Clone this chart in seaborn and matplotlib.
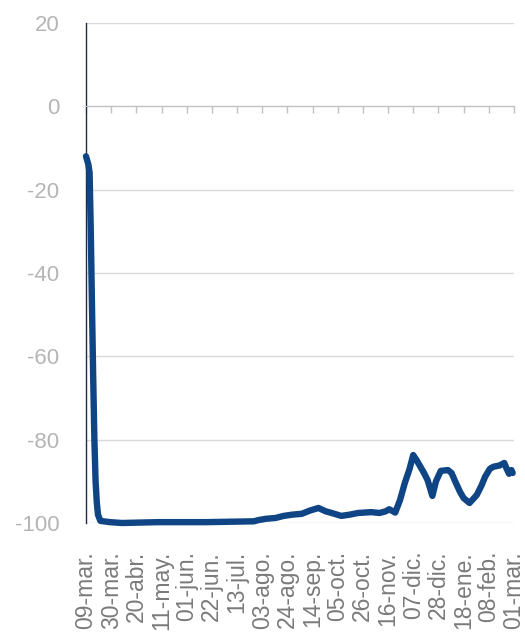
import pandas as pd
import matplotlib
matplotlib.use("Agg")
import matplotlib.pyplot as plt
import matplotlib.dates as mdates
import seaborn as sns

# =========================
# Datos
# =========================
inicio = pd.Timestamp("2020-03-09")

# dias desde el 09-mar.
dias = [0, 1, 2, 3, 4, 5, 6, 7, 8, 9, 10, 12, 20, 30, 60, 100, 140, 144,
        150, 158, 165, 172, 180, 187, 194, 200, 205, 213, 220, 227, 238,
        245, 250, 253, 258, 262, 266, 270, 273, 276, 279, 282, 285, 289,
        292, 296, 302, 305, 308, 312, 315, 320, 326, 330, 333, 337, 340,
        345, 349, 351, 353, 355, 356]

valores = [-12, -13, -14, -16, -30, -48, -65, -80, -90, -95, -98, -99.5,
           -99.8, -100, -99.8, -99.8, -99.6, -99.3, -99, -98.8, -98.3, -98,
           -97.8, -97, -96.4, -97.2, -97.6, -98.3, -98, -97.6, -97.4, -97.6,
           -97.2, -96.7, -97.5, -94.5, -90.4, -87, -83.7, -85, -86.5, -88,
           -89.7, -93.5, -90, -87.5, -87.3, -88, -90, -92.5, -94, -95.2,
           -93.3, -91, -88.9, -87, -86.5, -86.2, -85.6, -87, -88.2, -87.3,
           -88]

etiquetas = ["09-mar.", "30-mar.", "20-abr.", "11-may.", "01-jun.",
             "22-jun.", "13-jul.", "03-ago.", "24-ago.", "14-sep.",
             "05-oct.", "26-oct.", "16-nov.", "07-dic.", "28-dic.",
             "18-ene.", "08-feb.", "01-mar."]

y_ticks = [20, 0, -20, -40, -60, -80, -100]

df = pd.DataFrame({
    "fecha": inicio + pd.to_timedelta(dias, unit="D"),
    "valor": valores,
})

# =========================
# Grafico
# =========================
sns.set_style("white")
plt.rcParams["font.family"] = ["Liberation Sans", "DejaVu Sans"]
plt.rcParams["axes.unicode_minus"] = False

fig = plt.figure(figsize=(5.25, 6.33), dpi=100)
ax = fig.add_axes([0.1638, 0.1738, 0.815, 0.79])

sns.lineplot(data=df, x="fecha", y="valor", ax=ax, color="#0f4584",
             linewidth=4.6, clip_on=False, zorder=5)

ax.set_xlim(inicio, inicio + pd.Timedelta(days=357))
ax.set_ylim(-100, 20)
ax.set_xlabel("")
ax.set_ylabel("")

# rejilla horizontal
ax.set_yticks(y_ticks)
ax.yaxis.grid(True, color="#d9d9d9", linewidth=1)
ax.tick_params(axis="y", length=0, pad=19, labelsize=16, labelcolor="#b5b5b5")

# eje horizontal en cero con marcas
pos_ticks = pd.date_range(inicio, periods=len(etiquetas), freq="21D")
ax.spines["bottom"].set_position(("data", 0))
ax.spines["bottom"].set_color("#c0c0c0")
ax.spines["top"].set_visible(False)
ax.spines["right"].set_visible(False)
ax.spines["left"].set_color("#1c2c48")
ax.spines["left"].set_linewidth(1)
ax.set_xticks(pos_ticks)
ax.tick_params(axis="x", bottom=True, direction="out", length=5, width=1,
               color="#c0c0c0", labelbottom=False)

# etiquetas de fecha abajo
sec = ax.secondary_xaxis("bottom")
sec.set_xticks(mdates.date2num(pos_ticks), labels=etiquetas)
sec.tick_params(length=0, pad=20, labelsize=16.5, labelcolor="#7a7a7a",
                rotation=90)
sec.spines["bottom"].set_visible(False)

fig.savefig("out.png", dpi=100)
